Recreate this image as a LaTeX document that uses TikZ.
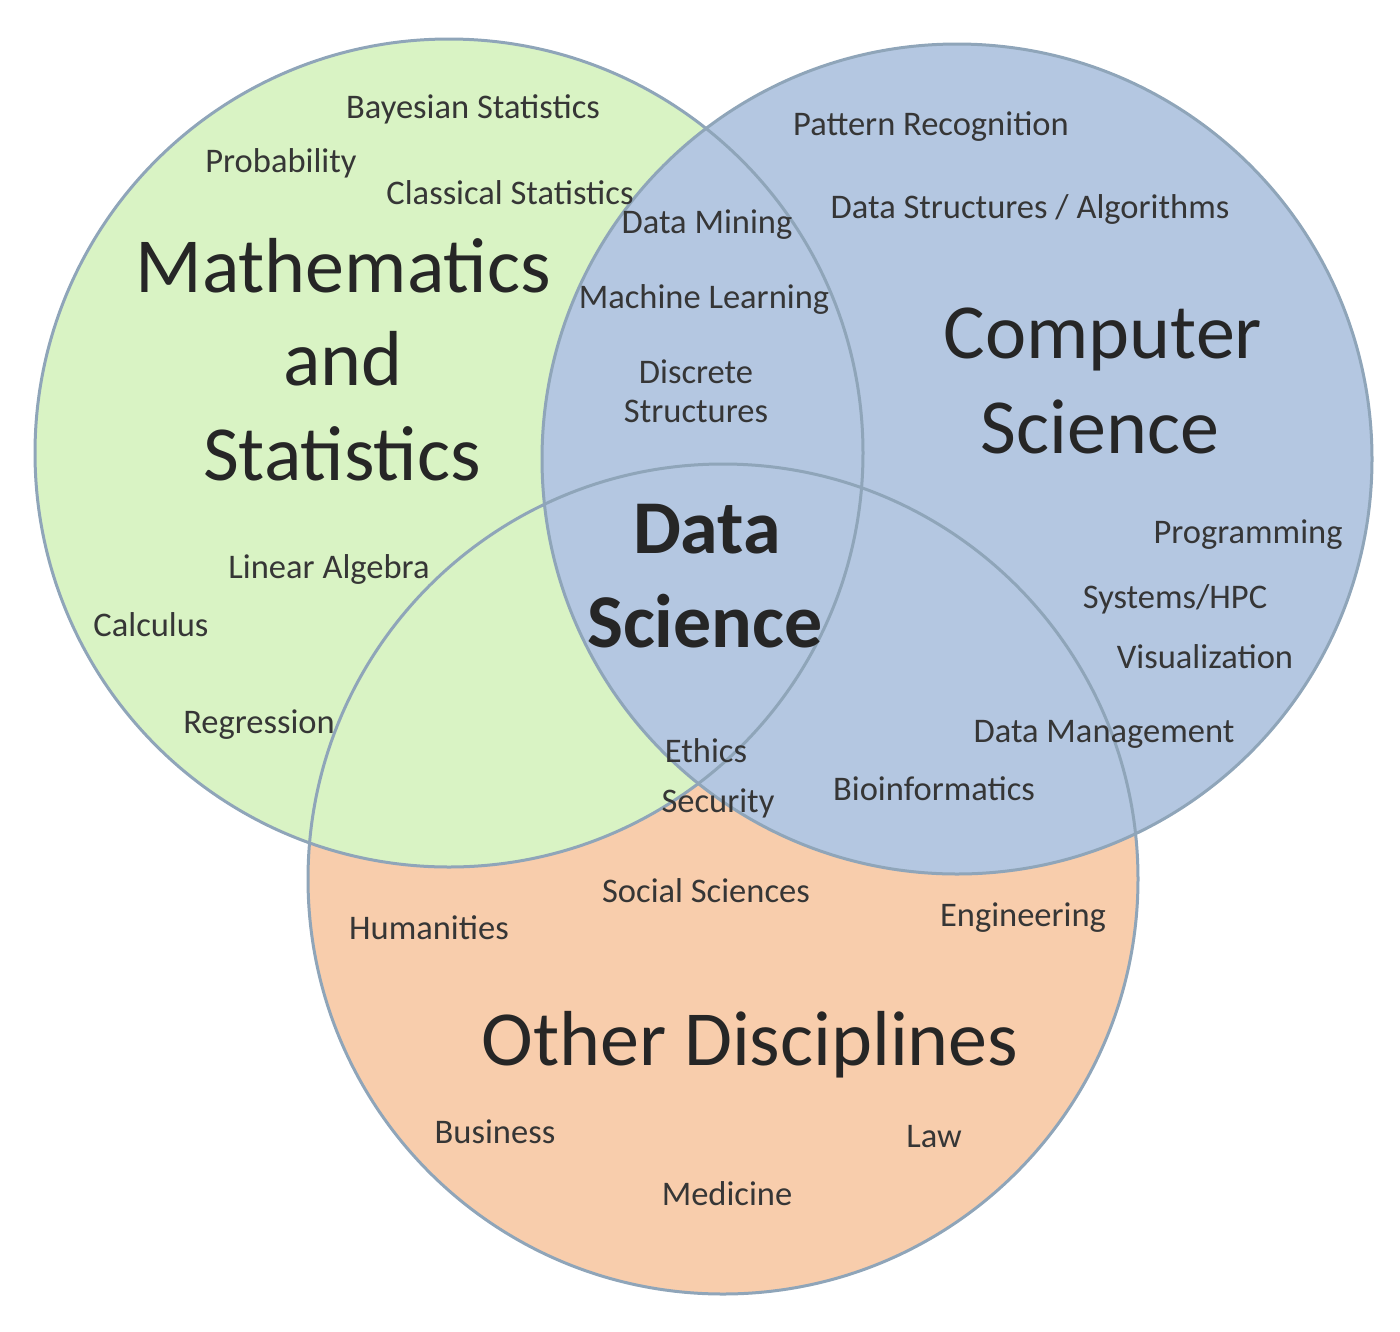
\documentclass[tikz,border=0pt]{standalone}
\usepackage{fontspec}
\setmainfont{Carlito}
\definecolor{mathfill}{HTML}{D9F3C4}
\definecolor{csfill}{HTML}{B4C7E1}
\definecolor{otherfill}{HTML}{F8CDAC}
\definecolor{ringcol}{HTML}{8FA5B9}
\definecolor{smalltext}{HTML}{363636}
\definecolor{bigtext}{HTML}{262626}
\tikzset{
  ring/.style={draw=ringcol, line width=3pt},
  lbl/.style={anchor=base, inner sep=0pt, text=smalltext, font=\fontsize{34.5}{40}\selectfont},
  big/.style={anchor=base, inner sep=0pt, text=bigtext, font=\fontsize{78}{90}\selectfont},
  bigbold/.style={anchor=base, inner sep=0pt, text=bigtext, font=\fontsize{76}{90}\selectfont\bfseries},
}
\begin{document}
\begin{tikzpicture}[x=1pt, y=-1pt]
\useasboundingbox (0,0) rectangle (1400,1331);
% fills
\fill[otherfill] (723,879) circle[radius=415pt];
\fill[mathfill] (449,453) circle[radius=414pt];
\fill[csfill] (957,459) circle[radius=415pt];
% outlines
\draw[ring] (723,879) circle[radius=415pt];
\draw[ring] (449,453) circle[radius=414pt];
\draw[ring] (957,459) circle[radius=415pt];
% Mathematics and Statistics
\node[lbl] (bayes) at (473,118) {Bayesian Statistics};
\node[lbl] (prob) at (281,172) {Probability};
\node[lbl] (classic) at (510,204) {Classical Statistics};
\node[big] (mathA) at (343,292) {Mathematics};
\node[big] (mathB) at (343,385) {and};
\node[big] (mathC) at (342,480) {Statistics};
\node[lbl] (linalg) at (329,578) {Linear Algebra};
\node[lbl] (calc) at (151,636) {Calculus};
\node[lbl] (regr) at (259,733) {Regression};
% intersection math/cs
\node[lbl] (mining) at (707,233) {Data Mining};
\node[lbl] (ml) at (704,308) {Machine Learning};
\node[lbl] (discA) at (696,383) {Discrete};
\node[lbl] (discB) at (696,422) {Structures};
% Computer Science
\node[lbl] (pattern) at (931,135) {Pattern Recognition};
\node[lbl] (dsa) at (1030,218) {Data Structures / Algorithms};
\node[big] (csA) at (1103,358) {Computer};
\node[big] (csB) at (1100,453) {Science};
\node[lbl] (prog) at (1248,543) {Programming};
\node[lbl] (hpc) at (1175,608) {Systems/HPC};
\node[lbl] (vis) at (1205,668) {Visualization};
\node[lbl] (dm) at (1104,742) {Data Management};
\node[lbl] (bio) at (934,800) {Bioinformatics};
% Data Science
\node[bigbold] (dsA) at (707,553) {Data};
\node[bigbold] (dsB) at (705,647) {Science};
\node[lbl] (ethics) at (706,762) {Ethics};
\node[lbl] (sec) at (718,812) {Security};
% Other disciplines
\node[lbl] (social) at (706,902) {Social Sciences};
\node[lbl] (human) at (429,939) {Humanities};
\node[lbl] (eng) at (1023,926) {Engineering};
\node[big] (other) at (750,1065) {Other Disciplines};
\node[lbl] (bus) at (495,1143) {Business};
\node[lbl] (law) at (934,1147) {Law};
\node[lbl] (med) at (727,1205) {Medicine};
\end{tikzpicture}
\end{document}
